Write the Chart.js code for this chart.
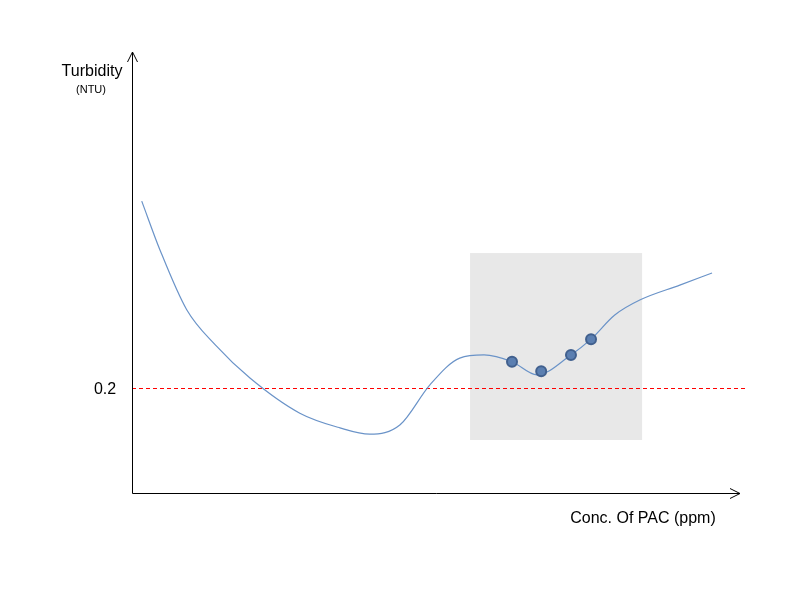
<!DOCTYPE html>
<html>
<head>
<meta charset="utf-8">
<script src="https://cdn.jsdelivr.net/npm/chart.js@4"></script>
<style>
  html, body { margin: 0; padding: 0; background: #fff; }
  #wrap { width: 785px; height: 589px; }
</style>
</head>
<body>
<div id="wrap"><canvas id="my-chart"></canvas></div>
<script>
// curve (x: dose units 0..100, y: NTU)
const curveX = [1.6, 4.6, 9.0, 13.7, 19.4, 27.6, 34.2, 39.1, 44.1, 49.0, 53.9, 57.9, 62.5, 66.6, 72.2, 75.5, 79.4, 83.6, 90.1, 95.4];
const curveY = [0.556, 0.463, 0.349, 0.282, 0.219, 0.152, 0.124, 0.112, 0.130, 0.206, 0.257, 0.263, 0.250, 0.225, 0.263, 0.293, 0.339, 0.368, 0.396, 0.419];
// highlighted sample points
const dotX = [62.5, 67.3, 72.2, 75.5];
const dotY = [0.250, 0.232, 0.263, 0.293];
// limit line and shaded range
const limitValue = 0.2;
const tickLabels = ['0.2'];
const boxX = [55.6, 83.9];
const boxY = [0.101, 0.457];

const toPts = (xs, ys) => xs.map((x, i) => ({ x: x, y: ys[i] }));

const decor = {
    id: 'decor',
    beforeDatasetsDraw(chart) {
        let c = chart.ctx, xs = chart.scales.x, ys = chart.scales.y;
        // grey box
        c.save();
        c.fillStyle = '#e8e8e8';
        let l = xs.getPixelForValue(boxX[0]), r = xs.getPixelForValue(boxX[1]);
        let t = ys.getPixelForValue(boxY[1]), b = ys.getPixelForValue(boxY[0]);
        c.fillRect(l, t, r - l, b - t);
        // red dashed limit line
        let yl = Math.round(ys.getPixelForValue(limitValue)) + 0.5;
        c.strokeStyle = '#ff0000';
        c.lineWidth = 1;
        c.setLineDash([4, 3]);
        c.beginPath();
        c.moveTo(chart.chartArea.left, yl);
        c.lineTo(chart.width - 37, yl);
        c.stroke();
        c.restore();
    },
    afterDraw(chart) {
        let c = chart.ctx, a = chart.chartArea, ys = chart.scales.y;
        let x0 = a.left + 0.5, y0 = a.bottom + 0.5;
        c.save();
        c.strokeStyle = '#000';
        c.lineWidth = 1;
        c.beginPath();
        // y axis + arrow
        c.moveTo(x0, y0); c.lineTo(x0, a.top);
        c.moveTo(x0 - 5, a.top + 10); c.lineTo(x0, a.top); c.lineTo(x0 + 5, a.top + 10);
        // x axis + arrow
        c.moveTo(x0, y0); c.lineTo(a.right, y0);
        c.moveTo(a.right - 10, y0 - 5); c.lineTo(a.right, y0); c.lineTo(a.right - 10, y0 + 5);
        c.stroke();
        // texts
        c.fillStyle = '#000';
        c.textAlign = 'center';
        c.textBaseline = 'middle';
        c.font = '16px "Liberation Sans", Arial, sans-serif';
        c.fillText('Turbidity', 92, 72);
        c.font = '11px "Liberation Sans", Arial, sans-serif';
        c.fillText('(NTU)', 91, 90);
        c.font = '16px "Liberation Sans", Arial, sans-serif';
        c.fillText(tickLabels[0], 105, ys.getPixelForValue(limitValue) + 2);
        c.fillText('Conc. Of PAC (ppm)', 643, 519);
        c.restore();
    }
};

let ctx = document.querySelector('#my-chart').getContext('2d');
let myChart = new Chart(ctx, {
    type: 'scatter',
    data: {
        datasets: [{
            data: toPts(dotX, dotY),
            showLine: false,
            pointRadius: 5,
            pointBackgroundColor: '#5b7fb1',
            pointBorderColor: '#41608e',
            pointBorderWidth: 2
        }, {
            data: toPts(curveX, curveY),
            showLine: true,
            borderColor: '#6a93c8',
            borderWidth: 1.2,
            pointRadius: 0,
            tension: 0.4,
            cubicInterpolationMode: 'monotone',
            fill: false
        }]
    },
    options: {
        responsive: true,
        maintainAspectRatio: false,
        animation: false,
        layout: { padding: { left: 132, right: 45, top: 52, bottom: 96 } },
        scales: {
            x: { type: 'linear', min: 0, max: 100, display: false },
            y: { type: 'linear', min: 0, max: 0.84, display: false }
        },
        plugins: {
            legend: { display: false },
            tooltip: { enabled: false }
        }
    },
    plugins: [decor]
});
</script>
</body>
</html>
